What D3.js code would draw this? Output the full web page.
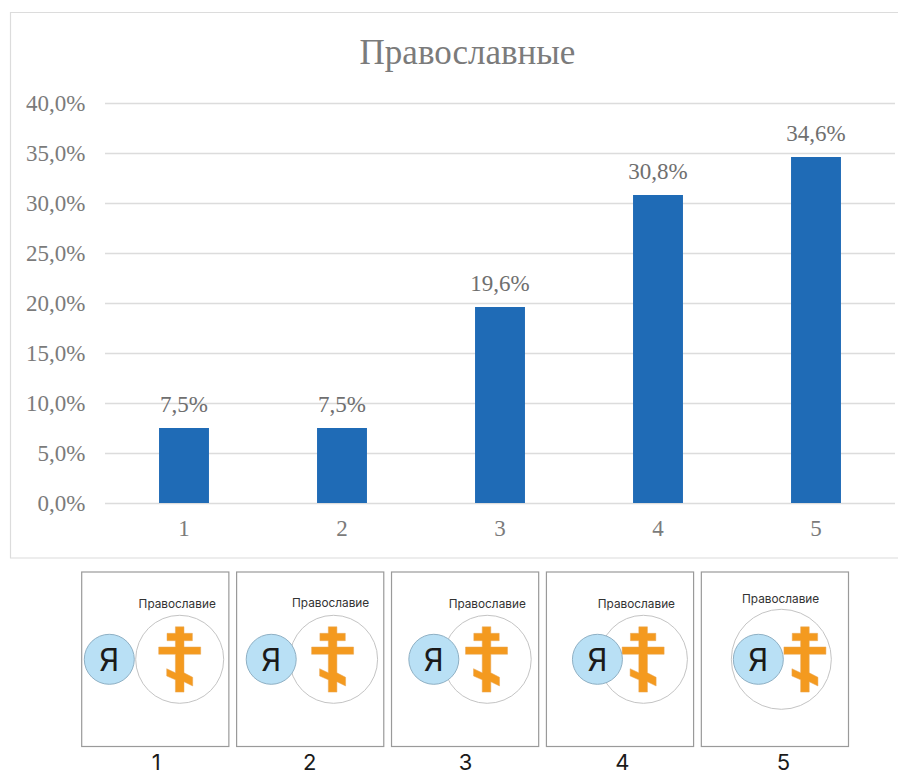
<!DOCTYPE html>
<html>
<head>
<meta charset="utf-8">
<script src="https://cdn.jsdelivr.net/npm/d3@7"></script>
<style>
  html, body { margin: 0; padding: 0; background: #fff; }
  svg { display: block; }
</style>
</head>
<body>
<div id="chart"></div>
<script>
// chart values
const categories = ["1", "2", "3", "4", "5"];
const values = [7.5, 7.5, 19.6, 30.8, 34.6];
const yTicks = [0, 5, 10, 15, 20, 25, 30, 35, 40];
const chartTitle = "Православные";

// small diagrams under the chart, one per category
const diagramLabel = "Православие";
const meCentre = [27.6, 34.6, 42.3, 51, 57];     // "Я" circle, px from panel edge
const bigCentre = [98, 97, 95.7, 97, 80];        // big circle
const bigRadius = [44, 44, 44, 44, 50];
const crossCentre = [98, 96, 95, 96.7, 103.6];   // cross
const labelCentre = [95.5, 94, 95.7, 90, 79.3];  // caption
const labelY = [604, 603, 604, 604, 599];
const numberCentre = [74.5, 73, 74, 76, 82];     // digit under the panel

const width = 898, height = 775;
const fmt = v => d3.format(".1f")(v).replace(".", ",") + "%";
const serif = "'Liberation Serif', serif";
const sans = "Inter, 'Noto Sans', sans-serif";
const grey = "#7b7b7b";

const svg = d3.select("#chart").append("svg")
    .attr("width", width)
    .attr("height", height);

// chart frame, open on the right where the picture is cropped
svg.append("path")
    .attr("d", "M898,12.5H10.5V558H898")
    .attr("fill", "none")
    .attr("stroke", "#dcdcdc")
    .attr("stroke-width", 1.2);

svg.append("text")
    .attr("x", 467.5)
    .attr("y", 63.5)
    .attr("text-anchor", "middle")
    .attr("font-family", serif)
    .attr("font-size", 35)
    .attr("fill", grey)
    .text(chartTitle);

const x = d3.scaleBand()
    .domain(categories)
    .range([105, 895])
    .paddingInner(0.684)
    .paddingOuter(0.342);

const y = d3.scaleLinear()
    .domain([0, 40])
    .range([503, 103]);

const yAxis = svg.append("g")
    .attr("transform", "translate(105,0)")
    .call(d3.axisLeft(y).tickValues(yTicks).tickFormat(fmt).tickSize(-790).tickPadding(19.5));
yAxis.select(".domain").remove();
yAxis.selectAll("line").attr("stroke", "#dcdcdc").attr("stroke-width", 1.7);
yAxis.selectAll("text")
    .attr("font-family", serif)
    .attr("font-size", 23)
    .attr("fill", grey);

const xAxis = svg.append("g")
    .attr("transform", "translate(0,503)")
    .call(d3.axisBottom(x).tickSize(0).tickPadding(17));
xAxis.select(".domain").remove();
xAxis.selectAll("text")
    .attr("font-family", serif)
    .attr("font-size", 23)
    .attr("fill", grey);

svg.append("g")
  .selectAll("rect")
  .data(values)
  .join("rect")
    .attr("x", (d, i) => x(categories[i]))
    .attr("y", d => y(d))
    .attr("width", x.bandwidth())
    .attr("height", d => y(0) - y(d))
    .attr("fill", "#1f6bb6");

svg.append("g")
  .selectAll("text")
  .data(values)
  .join("text")
    .attr("x", (d, i) => x(categories[i]) + x.bandwidth() / 2)
    .attr("y", d => y(d) - 16.5)
    .attr("text-anchor", "middle")
    .attr("font-family", serif)
    .attr("font-size", 23)
    .attr("fill", "#6f6f6f")
    .text(fmt);

// diagrams
const panelX = d3.scaleBand()
    .domain(categories)
    .range([81.7, 848.5])
    .paddingInner(0.05);
const panelTop = 572, panelH = 174.5, circleY = 659.3;

const cross = d3.line()([
  [-4.3, -32.5], [4.3, -32.5], [4.3, -26], [12.7, -26], [12.7, -18.6], [4.3, -18.6],
  [4.3, -12.3], [21, -12.3], [21, -5], [4.3, -5], [4.3, 13.5], [13, 18], [13, 26.7],
  [4.3, 22.5], [4.3, 32.8], [-4.3, 32.8], [-4.3, 20.5], [-13, 16.7], [-13, 9.4], [-4.3, 13.5],
  [-4.3, -5], [-21, -5], [-21, -12.3], [-4.3, -12.3], [-4.3, -18.6], [-12.7, -18.6],
  [-12.7, -26], [-4.3, -26]
]) + "Z";

const panels = svg.append("g")
  .selectAll("g")
  .data(categories)
  .join("g")
    .attr("transform", d => `translate(${panelX(d)},0)`);

panels.append("rect")
    .attr("y", panelTop)
    .attr("width", panelX.bandwidth())
    .attr("height", panelH)
    .attr("fill", "#fff")
    .attr("stroke", "#9a9a9a")
    .attr("stroke-width", 1.2);

panels.append("circle")
    .attr("cx", (d, i) => bigCentre[i])
    .attr("cy", circleY)
    .attr("r", (d, i) => bigRadius[i])
    .attr("fill", "#fff")
    .attr("stroke", "#c4c4c4")
    .attr("stroke-width", 1);

panels.append("path")
    .attr("d", cross)
    .attr("transform", (d, i) => `translate(${crossCentre[i]},${circleY})`)
    .attr("fill", "#f49a1f")
    .attr("stroke", "#e8a95a")
    .attr("stroke-width", 0.5);

panels.append("circle")
    .attr("cx", (d, i) => meCentre[i])
    .attr("cy", circleY)
    .attr("r", 25)
    .attr("fill", "#b9e0f5")
    .attr("stroke", "#8fb0c4")
    .attr("stroke-width", 1);

panels.append("text")
    .attr("x", (d, i) => meCentre[i])
    .attr("y", circleY + 11.5)
    .attr("text-anchor", "middle")
    .attr("font-family", sans)
    .attr("font-size", 31)
    .attr("fill", "#1a1a1a")
    .text("Я");

panels.append("text")
    .attr("x", (d, i) => labelCentre[i])
    .attr("y", (d, i) => labelY[i] + 4)
    .attr("text-anchor", "middle")
    .attr("font-family", sans)
    .attr("font-size", 11.8)
    .attr("fill", "#333")
    .text(diagramLabel);

panels.append("text")
    .attr("x", (d, i) => numberCentre[i])
    .attr("y", 769.5)
    .attr("text-anchor", "middle")
    .attr("font-family", sans)
    .attr("font-size", 22)
    .attr("fill", "#1a1a1a")
    .text(d => d);
</script>
</body>
</html>
